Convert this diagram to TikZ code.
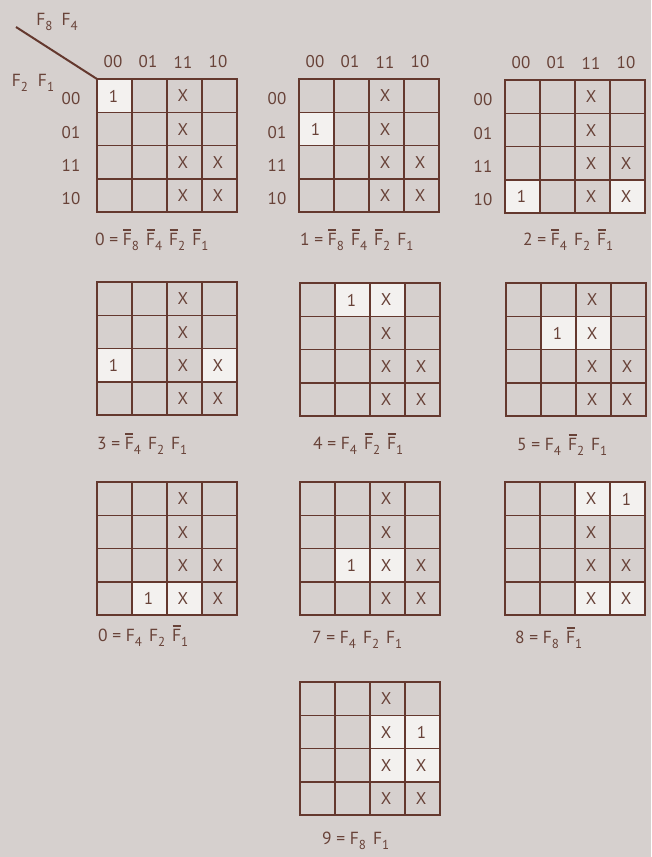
\documentclass[tikz,border=0pt]{standalone}
\usepackage{fontspec}
\setmainfont{PT Sans}
\definecolor{bg}{RGB}{214,208,206}
\definecolor{ink}{RGB}{100,56,46}
\definecolor{txt}{RGB}{104,66,56}
\definecolor{hi}{RGB}{243,241,239}
\newcommand{\cellfont}{\fontsize{17}{20}\selectfont}
\newcommand{\eqfont}{\fontsize{17.5}{20}\selectfont}
\newcommand{\sbs}[1]{\raisebox{-5pt}{\fontsize{13}{14}\selectfont #1}}
\newcommand{\nF}[1]{\ooalign{F\cr\hidewidth\rule[14.5pt]{8pt}{1.2pt}\hidewidth\cr}\sbs{#1}}
\newcommand{\pF}[1]{F\sbs{#1}}
\newcommand{\gap}{\hspace{7pt}}
\tikzset{
  gridln/.style={draw=ink, line width=1.5pt},
  frameln/.style={draw=ink, line width=2.2pt},
  cell/.style={text=txt, font=\cellfont, inner sep=0pt},
  hdr/.style={text=txt, font=\cellfont, inner sep=0pt},
  eqn/.style={text=txt, font=\eqfont, inner sep=0pt, anchor=base west},
}
% #1 name, #2 x, #3 y, #4 row of the 1, #5 column of the 1, #6 highlighted cells r/c
\newcommand{\kmap}[6]{%
  \begin{scope}[shift={(#2,#3)}]
    \foreach \r/\c in {#6}{\fill[hi] (\c*35,\r*33.25) rectangle ++(35,33.25);}
    \foreach \i in {1,2,3}{%
      \draw[gridln] (\i*35,0) -- (\i*35,133);
      \draw[gridln] (0,\i*33.25) -- (140,\i*33.25);}
    \draw[frameln] (0,0) rectangle (140,133);
    \coordinate (#1corner) at (0,0);
    \foreach \r in {0,1,2,3}{\node[cell] (#1x\r2) at (86,\r*33.25+17) {X};}
    \foreach \r in {2,3}{\node[cell] (#1x\r3) at (121,\r*33.25+17) {X};}
    \node[cell] (#1one) at (#5*35+16.5,#4*33.25+17) {1};
  \end{scope}}
% #1 name, #2 x, #3 y, #4 row-label x offset
\newcommand{\khead}[4]{%
  \begin{scope}[shift={(#2,#3)}]
    \foreach \l [count=\i from 0] in {00,01,11,10}{\node[hdr] (#1c\i) at (\i*35+16,-17) {\l};}
    \foreach \l [count=\i from 0] in {00,01,11,10}{\node[hdr] (#1r\i) at (#4,\i*33.25+20) {\l};}
  \end{scope}}
\begin{document}
\begin{tikzpicture}[x=1pt,y=-1pt]
  \fill[bg] (0,0) rectangle (651,857);
  \useasboundingbox (0,0) rectangle (651,857);

  % row 1
  \kmap{m0}{97}{79}{0}{0}{0/0}
  \kmap{m1}{299}{79}{1}{0}{1/0}
  \kmap{m2}{505}{80}{3}{0}{3/0,3/3}
  \khead{m0}{97}{79}{-26}
  \khead{m1}{299}{79}{-22}
  \khead{m2}{505}{80}{-22}

  % row 2
  \kmap{m3}{97}{282}{2}{0}{2/0,2/3}
  \kmap{m4}{300}{283}{0}{1}{0/1,0/2}
  \kmap{m5}{506}{283}{1}{1}{1/1,1/2}

  % row 3
  \kmap{m6}{97}{482}{3}{1}{3/1,3/2}
  \kmap{m7}{300}{482}{2}{1}{2/1,2/2}
  \kmap{m8}{505}{482}{0}{3}{0/2,0/3,3/2,3/3}

  % row 4
  \kmap{m9}{300}{682}{1}{3}{1/2,1/3,2/2,2/3}

  % corner variable labels
  \node[hdr, font=\eqfont] (vtop) at (57,22) {\pF{8}\hspace{9pt}\pF{4}};
  \node[hdr, font=\eqfont] (vleft) at (33,83) {\pF{2}\hspace{10pt}\pF{1}};
  \coordinate (diagstart) at (16,27);
  \draw[ink, line width=2pt] (diagstart) -- (m0corner);

  % equations
  \node[eqn] (eq0) at (95,245) {0 = \nF{8}\gap\nF{4}\gap\nF{2}\gap\nF{1}};
  \node[eqn] (eq1) at (300,245) {1 = \nF{8}\gap\nF{4}\gap\nF{2}\gap\pF{1}};
  \node[eqn] (eq2) at (523,245) {2 = \nF{4}\gap\pF{2}\gap\nF{1}};
  \node[eqn] (eq3) at (97,449) {3 = \nF{4}\gap\pF{2}\gap\pF{1}};
  \node[eqn] (eq4) at (313,449) {4 = \pF{4}\gap\nF{2}\gap\nF{1}};
  \node[eqn] (eq5) at (517,450) {5 = \pF{4}\gap\nF{2}\gap\pF{1}};
  \node[eqn] (eq6) at (98,641) {0 = \pF{4}\gap\pF{2}\gap\nF{1}};
  \node[eqn] (eq7) at (312,643) {7 = \pF{4}\gap\pF{2}\gap\pF{1}};
  \node[eqn] (eq8) at (515,643) {8 = \pF{8}\gap\nF{1}};
  \node[eqn] (eq9) at (322,844) {9 = \pF{8}\gap\pF{1}};
\end{tikzpicture}
\end{document}
